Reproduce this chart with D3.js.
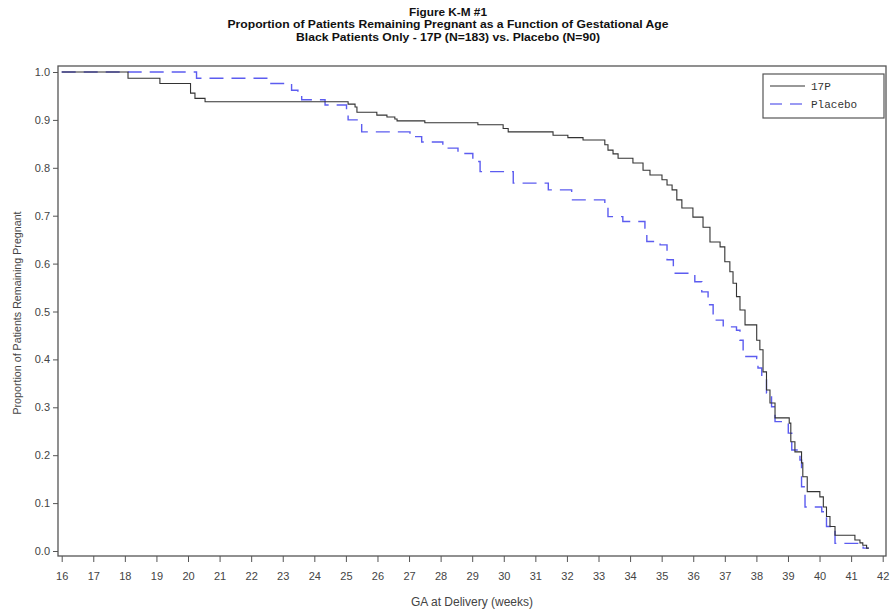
<!DOCTYPE html>
<html><head><meta charset="utf-8">
<script src="https://cdn.jsdelivr.net/npm/d3@7"></script>
<style>body{margin:0;background:#fff;}svg{display:block;}</style>
</head><body>
<script>
const titleLines = ["Figure K-M #1","Proportion of Patients Remaining Pregnant as a Function of Gestational Age","Black Patients Only - 17P (N=183) vs. Placebo (N=90)"];
const xTicks = d3.range(16, 43, 1);
const yTicks = [0,0.1,0.2,0.3,0.4,0.5,0.6,0.7,0.8,0.9,1.0];
const seriesNames = ["17P","Placebo"];
// step points: [week, proportion after event]
const weeks17P = [16,18.10,19.11,20.08,20.22,20.54,25.07,25.29,25.35,25.98,26.30,26.55,26.62,27.50,29.18,29.98,30.14,31.56,32.03,32.51,33.20,33.30,33.46,33.62,34.09,34.41,34.63,35.01,35.17,35.33,35.48,35.64,35.99,36.31,36.53,36.85,37.00,37.16,37.26,37.37,37.48,37.64,38.01,38.11,38.21,38.32,38.43,38.59,39.04,39.09,39.22,39.43,39.47,39.61,40.01,40.12,40.22,40.33,40.49,41.12,41.28,41.37,41.49,41.56];
const surv17P  = [1.0,0.987,0.976,0.956,0.945,0.938,0.933,0.927,0.916,0.910,0.906,0.902,0.898,0.894,0.890,0.882,0.875,0.868,0.863,0.858,0.848,0.837,0.829,0.820,0.810,0.795,0.785,0.775,0.764,0.754,0.733,0.716,0.697,0.676,0.645,0.635,0.604,0.583,0.559,0.531,0.503,0.472,0.440,0.420,0.374,0.336,0.309,0.278,0.267,0.228,0.207,0.184,0.155,0.124,0.113,0.092,0.072,0.051,0.033,0.023,0.017,0.012,0.006,0.006];
const weeksPlacebo = [16,20.27,22.60,23.28,23.48,23.60,24.34,25.02,25.07,25.50,27.03,27.40,28.07,28.55,29.02,29.25,30.30,31.41,32.15,33.20,33.30,33.77,34.47,34.53,34.95,35.17,35.37,36.05,36.27,36.47,36.63,36.95,37.37,37.48,37.58,38.01,38.05,38.17,38.32,38.48,38.59,39.01,39.12,39.38,39.43,39.54,40.07,40.22,40.49,41.38,41.56];
const survPlacebo  = [1.0,0.987,0.976,0.962,0.952,0.942,0.931,0.914,0.900,0.875,0.865,0.854,0.841,0.830,0.813,0.792,0.768,0.754,0.733,0.719,0.698,0.688,0.674,0.646,0.639,0.608,0.580,0.562,0.541,0.514,0.482,0.468,0.461,0.440,0.406,0.402,0.382,0.364,0.330,0.301,0.270,0.246,0.211,0.190,0.134,0.092,0.082,0.051,0.016,0.006,0.006];

const W = 891, H = 613;
const svg = d3.select("body").append("svg").attr("width", W).attr("height", H);
const frame = {l:58, r:886, t:66, b:556};
const x = d3.scaleLinear().domain([16,42]).range([61.7,882.7]);
const y = d3.scaleLinear().domain([0,1]).range([551,72]);

const font = "Liberation Sans, Arial, sans-serif";
// titles
const titleWidths = [78, 441, 304];
svg.selectAll("text.title").data(titleLines).enter().append("text")
  .attr("x", 448).attr("y", (d,i)=>15.5+i*12.5)
  .attr("text-anchor","middle").attr("font-family",font).attr("font-weight","bold")
  .attr("font-size", 11).attr("fill","#111")
  .attr("textLength",(d,i)=>titleWidths[i]).attr("lengthAdjust","spacingAndGlyphs")
  .text(d=>d);

// frame
svg.append("rect").attr("x",frame.l).attr("y",frame.t).attr("width",frame.r-frame.l).attr("height",frame.b-frame.t)
  .attr("fill","none").attr("stroke","#555").attr("stroke-width",1.3);

// x axis
const xAxis = d3.axisBottom(x).tickValues(xTicks).tickSize(6).tickPadding(10).tickFormat(d3.format("d"));
const gx = svg.append("g").attr("transform",`translate(0,${frame.b})`).call(xAxis);
gx.select(".domain").remove();
gx.selectAll("line").attr("stroke","#555");
gx.selectAll("text").attr("font-family",font).attr("font-size",11).attr("fill","#444");

// y axis
const yAxis = d3.axisLeft(y).tickValues(yTicks).tickSize(5).tickPadding(3).tickFormat(d3.format(".1f"));
const gy = svg.append("g").attr("transform",`translate(${frame.l},0)`).call(yAxis);
gy.select(".domain").remove();
gy.selectAll("line").attr("stroke","#555");
gy.selectAll("text").attr("font-family",font).attr("font-size",11).attr("fill","#444");

// axis titles
svg.append("text").attr("x",472).attr("y",606).attr("text-anchor","middle")
  .attr("font-family",font).attr("font-size",12).attr("fill","#444").text("GA at Delivery (weeks)");
svg.append("text").attr("transform","translate(21,313) rotate(-90)").attr("text-anchor","middle")
  .attr("font-family",font).attr("font-size",10.7).attr("fill","#444").text("Proportion of Patients Remaining Pregnant");

const line = d3.line().x(d=>x(d[0])).y(d=>y(d[1])).curve(d3.curveStepAfter);
const d17 = weeks17P.map((w,i)=>[w,surv17P[i]]);
const dPl = weeksPlacebo.map((w,i)=>[w,survPlacebo[i]]);

svg.append("path").datum(dPl).attr("d",line).attr("fill","none")
  .attr("stroke","#5c5cf0").attr("stroke-width",1.4).attr("stroke-dasharray","14,8");
svg.append("path").datum(d17).attr("d",line).attr("fill","none")
  .attr("stroke","#333").attr("stroke-width",1.1);

// legend
const lg = svg.append("g");
lg.append("rect").attr("x",763).attr("y",74).attr("width",121).attr("height",44)
  .attr("fill","#fff").attr("stroke","#555").attr("stroke-width",1.2);
const styles = [{c:"#333",w:1.1,da:null},{c:"#7a7af0",w:1.4,da:"12,8"}];
seriesNames.forEach((n,i)=>{
  const yy = 86 + i*18;
  lg.append("line").attr("x1",770).attr("x2",805).attr("y1",yy).attr("y2",yy)
    .attr("stroke",styles[i].c).attr("stroke-width",styles[i].w).attr("stroke-dasharray",styles[i].da);
  lg.append("text").attr("x",811).attr("y",yy+4).attr("font-family","Liberation Mono, DejaVu Sans Mono, monospace")
    .attr("font-size",11).attr("fill","#333").text(n);
});
</script>
</body></html>
